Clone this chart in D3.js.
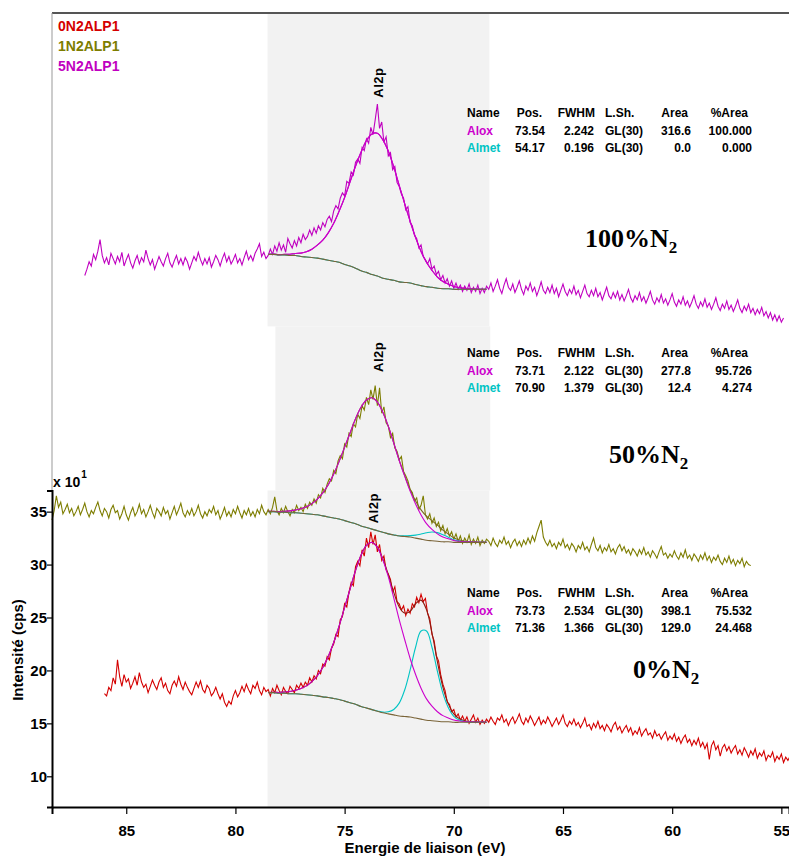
<!DOCTYPE html>
<html>
<head>
<meta charset="utf-8">
<script src="https://d3js.org/d3.v7.min.js"></script>
<style>
  body { margin: 0; background: #fff; }
  svg { display: block; font-family: 'Liberation Sans', Arial, sans-serif; }
</style>
</head>
<body>
<script>
// spectra: binding energy of first point + step (eV), intensity in units of 10 cps
const spec0Start = 86.0, spec0Step = 0.1
const spec0N2 = [
  17.8,17.6,18.4,18.1,19.3,18.7,21.0,19.4,18.5,19.6, 18.9,19.2,18.3,18.8,19.4,18.6,19.8,18.9,18.4,18.7,
  17.9,18.5,19.1,18.6,18.2,18.9,19.3,18.4,18.8,18.1, 17.8,18.6,19.0,18.5,19.4,18.7,18.2,18.9,18.4,18.0,
  17.7,18.3,18.9,18.4,19.0,18.2,17.9,18.6,18.3,17.6, 17.9,18.4,17.8,17.3,17.8,17.0,16.6,17.1,16.8,17.6,
  18.1,17.5,17.9,18.5,18.0,18.7,18.2,17.8,18.6,18.3, 18.9,18.1,17.7,18.4,18.0,
  18.2,17.6,18.3,17.9,18.6,18.1,17.7,18.4,18.0,17.8, 18.5,18.2,17.9,18.6,18.3,18.8,18.4,18.9,18.6,19.3,
  18.9,19.5,19.2,20.0,19.7,20.6,20.4,21.3,21.0,22.1, 22.5,23.4,23.2,24.8,25.1,26.3,26.0,27.4,28.3,28.0,
  29.8,30.3,29.9,31.4,30.8,32.5,31.6,33.1,31.9,32.8, 31.2,31.9,30.4,30.8,29.5,29.1,28.6,27.4,27.9,26.5,
  26.3,25.7,26.1,25.2,25.8,25.4,26.3,26.0,26.9,26.4, 27.2,26.5,26.8,25.4,24.9,23.4,22.8,21.4,20.9,19.6,
  18.7,18.1,17.0,16.8,16.1,16.3,15.6,15.9,15.3,15.7, 15.2,15.6,15.0,15.4,15.8,15.1,15.5,14.9,15.3,15.0,
  15.4,
  15.1,15.6,15.2,14.9,15.5,15.3,15.8,15.1,15.4,14.8, 15.3,15.6,15.0,15.4,15.9,15.2,14.9,15.5,15.1,15.7,
  15.3,14.8,15.2,15.6,14.9,15.3,15.0,15.6,15.2,14.7, 15.1,15.5,14.9,15.3,15.8,15.0,14.7,15.2,14.9,15.4,
  14.8,15.1,14.6,15.0,15.5,14.7,14.9,14.4,15.0,14.6, 15.2,14.5,14.8,14.3,14.9,14.6,14.2,14.8,15.1,14.4,
  14.7,14.1,14.5,14.8,14.2,14.6,13.9,14.3,14.0,14.6, 13.8,14.2,14.5,13.9,14.1,13.6,14.3,13.8,14.0,13.5,
  13.9,14.2,13.4,13.8,13.5,14.0,13.3,13.7,13.1,13.6, 13.9,13.2,13.5,12.9,13.4,13.0,13.6,12.8,13.2,12.6,
  13.1,11.6,12.9,13.3,12.5,12.9,11.9,12.7,13.0,12.4, 12.8,12.2,12.6,12.9,12.1,12.5,12.0,12.7,12.3,11.8,
  12.4,12.0,12.6,11.7,12.2,11.9,12.4,11.5,12.0,11.8, 12.3,11.4,11.9,11.6,12.1,11.3,11.8,11.5,11.9]

const spec1Start = 88.4, spec1Step = 0.1
const spec1N2 = [
  34.2,35.1,36.5,35.4,35.9,34.8,35.2,35.7,34.9,35.3, 34.6,35.0,35.5,34.7,35.2,35.8,35.0,34.5,35.1,34.8,
  35.4,35.9,35.1,34.6,35.3,35.0,34.4,35.2,35.6,34.9, 35.1,34.3,34.8,35.5,34.7,34.2,34.9,35.4,34.6,35.0,
  35.7,34.8,35.2,34.5,35.0,35.6,34.9,34.4,35.3,35.0, 34.6,35.4,34.8,35.1,34.3,34.9,35.5,34.7,35.2,35.8,
  34.9,34.5,35.1,34.7,35.3,34.6,35.0,35.6,34.8,34.4, 35.0,34.6,35.2,34.9,35.5,34.7,35.1,34.3,34.8,35.4,
  34.6,35.0,34.5,35.2,34.8,35.5,34.9,34.4,35.1,34.7, 35.3,34.6,35.0,34.5,35.2,34.8,35.6,35.0,34.7,
  35.2,34.8,35.4,36.4,35.1,34.7,35.3,34.9,35.5,35.0, 34.6,35.2,34.9,35.6,35.1,35.4,35.0,35.7,35.3,35.9,
  35.6,36.2,35.8,36.6,36.3,37.2,36.8,37.6,38.1,37.9, 38.9,38.6,39.8,40.3,40.0,41.4,41.1,42.4,42.1,43.3,
  43.0,44.2,43.8,45.0,44.6,45.8,45.1,46.5,45.6,46.9, 45.0,46.7,44.3,44.9,43.4,43.1,42.0,42.4,41.0,40.7,
  39.9,40.2,38.8,38.4,37.9,37.1,36.8,36.0,36.3,35.2, 35.6,36.5,34.7,34.3,34.8,33.9,34.4,33.6,34.0,33.2,
  33.7,32.9,33.4,32.7,33.1,32.4,32.9,32.2,32.7,32.0, 32.5,32.1,32.8,31.9,32.4,32.0,32.6,31.8,32.3,32.0,
  32.4,
  32.2,31.8,32.5,32.0,31.7,32.3,32.0,32.6,31.9,32.2, 31.6,32.1,32.4,31.8,32.2,31.7,32.3,31.9,32.5,32.0,
  32.7,32.2,33.0,33.6,34.2,32.6,32.1,31.8,32.3,31.7, 32.0,31.5,32.1,31.8,32.4,31.6,31.9,31.4,32.0,31.7,
  31.2,31.8,31.5,32.1,31.4,31.7,31.2,31.9,32.5,31.6, 31.3,31.8,31.1,31.6,31.3,31.9,31.2,31.5,31.0,31.6,
  31.9,31.3,31.7,31.1,31.4,30.9,31.5,31.2,30.8,31.4, 31.0,31.6,30.9,31.2,30.7,31.3,31.0,30.6,31.2,31.7,
  30.9,31.1,30.6,31.0,30.7,31.3,30.8,30.5,31.1,30.7, 31.4,30.6,30.9,30.4,31.0,30.7,30.3,30.9,30.5,31.1,
  30.4,30.8,30.2,30.7,30.4,30.9,30.3,30.0,30.6,30.2, 30.8,30.1,30.5,29.9,30.4,30.1,30.6,29.8,30.3,30.0,
  29.9]

const spec5Start = 86.9, spec5Step = 0.1
const spec5N2 = [
  57.3,57.9,58.6,58.2,59.3,58.8,59.6,60.7,59.2,58.5, 59.0,58.3,59.4,58.9,58.4,59.1,58.6,59.5,58.2,58.8,
  59.3,58.5,58.0,58.7,59.2,58.4,59.0,58.6,59.7,58.9, 58.3,58.8,57.9,58.5,59.1,58.6,58.2,58.9,59.4,58.5,
  58.1,58.7,59.2,58.4,58.9,58.3,59.0,58.6,57.9,58.5, 59.1,58.7,59.5,58.8,58.3,58.9,58.4,59.0,58.1,58.6,
  59.2,58.8,58.2,58.9,59.4,58.6,59.1,58.4,58.8,59.3, 58.5,58.9,58.3,59.0,59.6,58.8,59.2,58.7,59.4,59.8,
  60.3,59.1,59.5,58.9,
  59.2,59.8,59.3,60.1,59.6,60.4,59.7,60.2,59.5,60.8, 60.3,59.9,60.6,60.1,60.9,60.4,61.2,60.7,61.0,61.6,
  61.1,61.8,61.3,62.0,61.6,62.3,61.9,62.6,62.9,62.4, 63.4,63.9,63.6,64.6,65.1,64.8,66.2,66.0,67.1,66.8,
  68.0,68.3,67.9,69.4,69.1,70.2,69.8,71.3,70.6,72.0, 73.5,71.2,71.8,69.9,70.4,68.6,68.9,67.3,67.6,66.1,
  65.7,65.0,64.6,63.5,63.8,62.3,62.0,61.1,60.8,59.9, 60.2,59.1,58.8,58.4,58.9,57.9,58.2,57.4,57.7,56.9,
  57.3,56.6,57.0,56.3,56.8,56.1,56.6,56.0,56.4,55.8, 56.3,55.9,56.5,55.7,56.2,55.8,56.4,55.6,56.1,55.7,
  56.3,
  56.0,56.6,55.8,56.3,56.9,56.1,55.6,56.4,57.0,56.2, 55.9,56.5,55.7,56.2,56.8,56.0,55.5,56.3,55.9,56.6,
  55.8,56.2,55.4,56.0,56.7,55.9,55.6,56.2,55.7,56.4, 55.6,56.1,55.3,55.9,56.5,55.8,55.4,56.0,55.6,56.3,
  55.5,55.9,55.2,55.8,56.4,55.6,55.3,55.9,55.4,56.1, 55.3,55.7,55.0,55.6,56.2,55.4,55.1,55.7,55.2,55.8,
  55.0,55.5,54.9,55.4,56.0,55.2,54.8,55.4,55.0,55.7, 54.9,55.3,54.7,55.2,55.8,55.0,54.6,55.2,54.8,55.5,
  54.7,55.1,54.5,55.0,55.6,54.8,54.4,55.0,54.6,55.3, 54.5,54.9,54.3,54.8,55.4,54.6,54.2,54.8,54.4,55.1,
  54.3,54.7,54.1,54.6,55.2,54.4,54.0,54.6,54.2,54.9, 54.1,54.5,53.9,54.4,55.0,54.2,53.8,54.4,54.0,54.6,
  53.8,54.2,53.6,54.1,53.7,54.3,53.5,53.9,53.3,53.8, 53.1,53.6,53.0,53.5,52.9,53.3]

// fit region sampling (eV) and fitted curves (background, and components above background)
const fitStart = 78.5, fitStep = 0.25
const bg0N2 = [17.9,17.9,17.85,17.85,17.8,17.8,17.75,17.7,17.65,17.6,17.5,17.45,17.35,17.25,17.1,16.95,16.8,16.6,16.45,16.3,
  16.15,16.0,15.9,15.8,15.7,15.65,15.6,15.5,15.4,15.3,15.25,15.2,15.15,15.15,15.1,15.1,15.1,15.1,15.1,15.1,15.1]
const alox0N2 = [0.02,0.04,0.07,0.12,0.21,0.33,0.54,0.84,1.30,1.90,2.77,3.87,5.29,6.95,8.85,10.74,12.64,14.28,15.36,15.80,
  15.48,14.46,12.96,11.06,9.09,7.27,5.53,4.11,2.92,2.01,1.37,0.90,0.58,0.36,0.22,0.13,0.08,0.05,0.03,0.02,0.01]
const almet0N2 = [0,0,0,0,0,0,0,0,0,0,0,0,0,0,0,0,0,0,0,0,
  0.02,0.06,0.19,0.51,1.21,2.50,4.45,6.69,8.32,8.43,6.94,4.71,2.70,1.33,0.57,0.22,0.07,0.02,0.01,0,0]

const bg1N2 = [35.0,35.0,34.95,34.95,34.9,34.9,34.85,34.8,34.75,34.7,34.6,34.5,34.4,34.3,34.15,34.0,33.85,33.65,33.5,33.35,
  33.2,33.05,32.9,32.8,32.7,32.65,32.6,32.5,32.4,32.3,32.25,32.2,32.15,32.15,32.1,32.1,32.1,32.1,32.1,32.1,32.1]
const alox1N2 = [0.02,0.03,0.05,0.09,0.17,0.26,0.42,0.66,1.01,1.49,2.17,3.04,4.15,5.45,6.94,8.43,9.92,11.21,12.04,12.40,
  12.15,11.34,10.16,8.68,7.13,5.70,4.34,3.22,2.29,1.57,1.07,0.70,0.45,0.29,0.18,0.10,0.06,0.04,0.02,0.01,0.01]
const almet1N2 = [0,0,0,0,0,0,0,0,0,0,0,0,0,0,0,0,0,0,0,0,
  0,0,0,0,0.02,0.06,0.13,0.28,0.48,0.70,0.83,0.82,0.66,0.44,0.25,0.12,0.05,0.02,0,0,0]

const bg5N2 = [59.3,59.3,59.25,59.25,59.2,59.2,59.1,59.05,59.0,58.95,58.85,58.75,58.65,58.55,58.35,58.2,58.0,57.75,57.6,57.4,
  57.25,57.05,56.95,56.85,56.7,56.65,56.6,56.45,56.35,56.25,56.2,56.1,56.05,56.05,56.0,56.0,56.0,56.0,56.0,56.0,56.0]
const alox5N2 = [0.01,0.02,0.03,0.06,0.11,0.19,0.32,0.50,0.79,1.22,1.79,2.58,3.58,4.84,6.32,7.96,9.63,11.20,12.46,13.28,
  13.49,13.07,12.11,10.72,9.11,7.44,5.83,4.43,3.23,2.30,1.59,1.06,0.69,0.43,0.27,0.16,0.09,0.05,0.03,0.01,0.01]
const almet5N2 = [0,0,0,0,0,0,0,0,0,0,0,0,0,0,0,0,0,0,0,0,0,0,0,0,0,0,0,0,0,0,0,0,0,0,0,0,0,0,0,0,0]

// shaded fitting regions (eV, intensity)
const regionFrom = [78.53, 78.17, 78.53]
const regionTo = [68.37, 68.33, 68.37]
const regionTop = [82.1, 52.5, 37.0]
const regionBottom = [52.5, 37.0, 7.1]

const sampleNames = ['0N2ALP1', '1N2ALP1', '5N2ALP1']
const sampleLabels = ['0%N', '50%N', '100%N']
const xTickLabels = [85, 80, 75, 70, 65, 60, 55]
const yTickLabels = [10, 15, 20, 25, 30, 35]

// Al2p label anchors (eV, intensity at the bottom of the rotated text)
const peakLabelEnergy = [73.7, 73.45, 73.45]
const peakLabelLevel = [33.9, 48.2, 74.1]

const tableHeader = ['Name', 'Pos.', 'FWHM', 'L.Sh.', 'Area', '%Area']
const table0N2 = [['Alox', '73.73', '2.534', 'GL(30)', '398.1', '75.532'], ['Almet', '71.36', '1.366', 'GL(30)', '129.0', '24.468']]
const table1N2 = [['Alox', '73.71', '2.122', 'GL(30)', '277.8', '95.726'], ['Almet', '70.90', '1.379', 'GL(30)', '12.4', '4.274']]
const table5N2 = [['Alox', '73.54', '2.242', 'GL(30)', '316.6', '100.000'], ['Almet', '54.17', '0.196', 'GL(30)', '0.0', '0.000']]

const WIDTH = 789
const HEIGHT = 856
const dataColors = ['#d40000', '#7d7d00', '#c000c0']
const aloxColor = '#cc00cc'
const almetColor = '#00c4c4'
const bgColor = '#7a6438'
const envColors = ['#8c1c10', '#7a6a20', '#b800b8']

const svg = d3.select('body')
  .append('svg')
  .attr('width', WIDTH)
  .attr('height', HEIGHT)

const x = d3.scaleLinear().domain([88.4, 54.65]).range([52, 789])
const y = d3.scaleLinear().domain([7.1, 82.1]).range([807, 13])

// shaded regions
svg.append('g')
  .selectAll('rect')
  .data(regionFrom)
  .enter()
  .append('rect')
  .attr('x', d => x(d))
  .attr('width', (d, i) => x(regionTo[i]) - x(d))
  .attr('y', (d, i) => y(regionTop[i]))
  .attr('height', (d, i) => y(regionBottom[i]) - y(regionTop[i]))
  .attr('fill', '#f2f2f2')

// frame
svg.append('line')
  .attr('x1', 52).attr('x2', WIDTH).attr('y1', y(82.1)).attr('y2', y(82.1))
  .attr('stroke', '#555').attr('stroke-width', 2)
svg.append('line')
  .attr('x1', 52).attr('x2', 52).attr('y1', y(82.1)).attr('y2', y(37))
  .attr('stroke', '#999').attr('stroke-width', 1)

const specLine = (start, step) => d3.line()
  .x((d, i) => x(start - i * step))
  .y(d => y(d))

const spectra = [
  { values: spec0N2, start: spec0Start, step: spec0Step, bg: bg0N2, alox: alox0N2, almet: almet0N2 },
  { values: spec1N2, start: spec1Start, step: spec1Step, bg: bg1N2, alox: alox1N2, almet: almet1N2 },
  { values: spec5N2, start: spec5Start, step: spec5Step, bg: bg5N2, alox: alox5N2, almet: almet5N2 },
]

const fitLine = d3.line()
  .x((d, i) => x(fitStart - i * fitStep))
  .y(d => y(d))
  .curve(d3.curveCatmullRom)

spectra.forEach((s, k) => {
  const g = svg.append('g')
  g.append('path')
    .attr('d', specLine(s.start, s.step)(s.values))
    .attr('fill', 'none')
    .attr('stroke', dataColors[k])
    .attr('stroke-width', 1.1)
  const envelope = s.bg.map((b, i) => b + s.alox[i] + s.almet[i])
  g.append('path')
    .attr('d', fitLine(envelope))
    .attr('fill', 'none').attr('stroke', envColors[k]).attr('stroke-width', 1.1)
  g.append('path')
    .attr('d', fitLine(s.bg.map((b, i) => b + s.almet[i])))
    .attr('fill', 'none').attr('stroke', almetColor).attr('stroke-width', 1.1)
  g.append('path')
    .attr('d', fitLine(s.bg.map((b, i) => b + s.alox[i])))
    .attr('fill', 'none').attr('stroke', aloxColor).attr('stroke-width', 1.1)
  g.append('path')
    .attr('d', fitLine(s.bg))
    .attr('fill', 'none').attr('stroke', bgColor).attr('stroke-width', 1.1)
})

// axes
const xAxisG = svg.append('g').attr('transform', `translate(0,${y(7.1)})`)
xAxisG.call(d3.axisBottom(x).tickValues(d3.range(55, 89)).tickSize(7).tickFormat(''))
xAxisG.call(d3.axisBottom(x).tickValues(xTickLabels).tickSize(7).tickFormat(d3.format('d')))
xAxisG.selectAll('.domain').attr('stroke', '#000').attr('stroke-width', 2)
xAxisG.selectAll('line').attr('stroke', '#000').attr('stroke-width', 1.2)
xAxisG.selectAll('text')
  .attr('font-size', 15).attr('font-weight', 'bold').attr('font-family', 'Liberation Sans, Arial')
  .attr('fill', '#000').attr('dy', '1.25em')

const yAxisScale = y.copy().domain([7.1, 37]).range([y(7.1), y(37)])
const yAxisG = svg.append('g').attr('transform', 'translate(52,0)')
yAxisG.call(d3.axisLeft(yAxisScale).tickValues(d3.range(8, 38)).tickSize(5).tickFormat(''))
yAxisG.call(d3.axisLeft(yAxisScale).tickValues(yTickLabels).tickSize(5).tickFormat(d3.format('d')))
yAxisG.selectAll('.domain').attr('stroke', '#000').attr('stroke-width', 2)
yAxisG.selectAll('line').attr('stroke', '#000').attr('stroke-width', 1.2)
yAxisG.selectAll('text')
  .attr('font-size', 15).attr('font-weight', 'bold').attr('font-family', 'Liberation Sans, Arial')
  .attr('fill', '#000').attr('x', -5)

// axis titles
svg.append('text')
  .attr('x', 425).attr('y', 853)
  .attr('text-anchor', 'middle')
  .attr('font-size', 15).attr('font-weight', 'bold')
  .text('Energie de liaison (eV)')
svg.append('text')
  .attr('transform', 'translate(23,650) rotate(-90)')
  .attr('text-anchor', 'middle')
  .attr('font-size', 15).attr('font-weight', 'bold')
  .text('Intensité (cps)')
const scaleLabel = svg.append('text')
  .attr('x', 53).attr('y', 487)
  .attr('font-size', 14).attr('font-weight', 'bold')
scaleLabel.append('tspan').text('x 10')
scaleLabel.append('tspan').attr('font-size', 10).attr('dy', -9).attr('dx', 1).text('1')

// legend
svg.append('g')
  .selectAll('text')
  .data(sampleNames)
  .enter()
  .append('text')
  .attr('x', 58)
  .attr('y', (d, i) => 31 + i * 20)
  .attr('font-size', 14)
  .attr('font-weight', 'bold')
  .attr('fill', (d, i) => dataColors[i])
  .text(d => d)

// peak labels
svg.append('g')
  .selectAll('text')
  .data(peakLabelEnergy)
  .enter()
  .append('text')
  .attr('transform', (d, i) => `translate(${x(d) + 5},${y(peakLabelLevel[i])}) rotate(-90)`)
  .attr('font-size', 13)
  .attr('font-weight', 'bold')
  .attr('letter-spacing', 0.5)
  .text('Al2p')

// sample labels
const sampleLabelPos = [[633, 678], [609, 463], [585, 247]]
sampleLabels.forEach((t, i) => {
  const tx = svg.append('text')
    .attr('x', sampleLabelPos[i][0]).attr('y', sampleLabelPos[i][1])
    .attr('font-family', 'Liberation Serif, Times New Roman, serif')
    .attr('font-weight', 'bold').attr('font-size', 26)
  tx.append('tspan').text(t)
  tx.append('tspan').attr('font-size', 17).attr('dy', 6).text('2')
})

// parameter tables
const headerAnchor = [['start', 467], ['end', 542], ['end', 595], ['start', 605], ['end', 688], ['end', 748]]
const cellAnchor = [['start', 467], ['end', 545], ['end', 594], ['start', 605], ['end', 691], ['end', 752]]
const tables = [[table0N2, 597], [table1N2, 357], [table5N2, 117]]
tables.forEach(([rows, top]) => {
  const g = svg.append('g').attr('font-size', 12).attr('font-weight', 'bold')
  tableHeader.forEach((h, j) => {
    g.append('text').attr('x', headerAnchor[j][1]).attr('y', top)
      .attr('text-anchor', headerAnchor[j][0]).text(h)
  })
  rows.forEach((r, ri) => {
    r.forEach((c, j) => {
      g.append('text').attr('x', cellAnchor[j][1]).attr('y', top + 18 + ri * 17)
        .attr('text-anchor', cellAnchor[j][0])
        .attr('fill', j === 0 ? (ri === 0 ? aloxColor : almetColor) : '#000')
        .text(c)
    })
  })
})
</script>
</body>
</html>
